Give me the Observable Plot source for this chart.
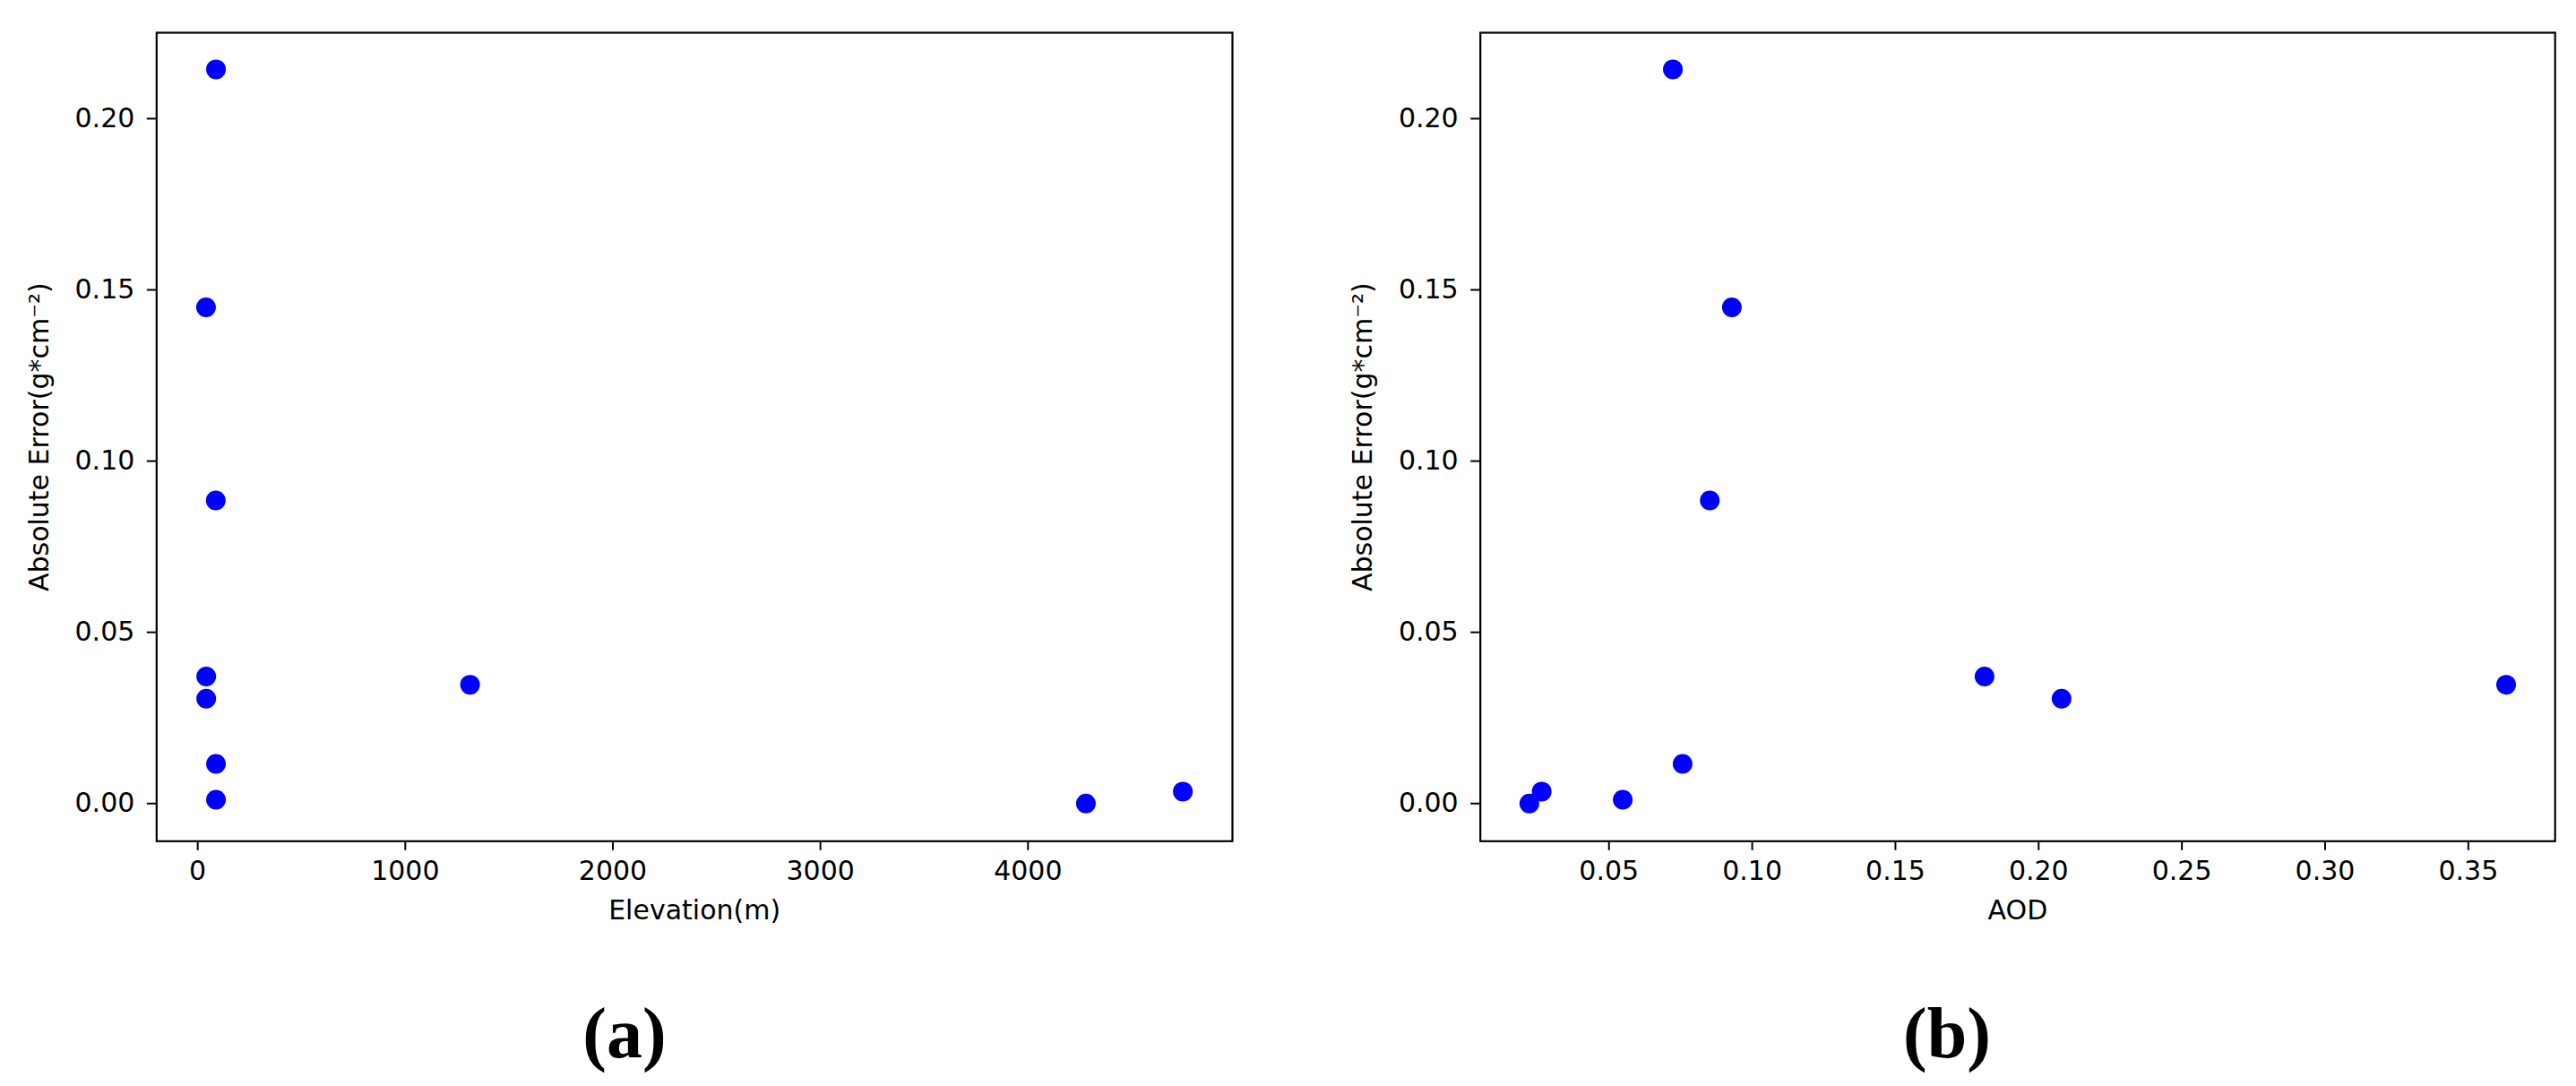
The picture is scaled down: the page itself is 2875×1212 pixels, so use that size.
<!DOCTYPE html>
<html>
<head>
<meta charset="utf-8">
<script src="https://cdn.jsdelivr.net/npm/d3@7"></script>
<script src="https://cdn.jsdelivr.net/npm/@observablehq/plot@0.6"></script>
<style>
  body { margin: 0; background: #fff; }
  #fig { position: relative; width: 2875px; height: 1212px; background: #fff; overflow: hidden; }
  .panel { position: absolute; top: 0; }
  .cap { position: absolute; top: 1113px; width: 300px; text-align: center; color: #000;
         font-family: "Liberation Serif", serif; font-weight: bold; font-size: 80px; line-height: 80px; }
</style>
</head>
<body>
<div id="fig">
  <div id="pa" class="panel" style="left:0px"></div>
  <div id="pb" class="panel" style="left:1437px"></div>
  <div class="cap" style="left:547px">(a)</div>
  <div class="cap" style="left:2023px">(b)</div>
</div>
<script>
// ---- data ----
const absError  = [0.2144, 0.1449, 0.0885, 0.0371, 0.0306, 0.0347, 0.0116, 0.0011, 0.0000, 0.0035];
const elevation = [88, 40, 87, 41, 41, 1312, 88, 88, 4279, 4746];
const aod       = [0.0723, 0.0929, 0.0852, 0.1811, 0.2080, 0.3632, 0.0757, 0.0548, 0.0222, 0.0265];

const errTicks  = [0, 0.05, 0.10, 0.15, 0.20];
const elevTicks = [0, 1000, 2000, 3000, 4000];
const aodTicks  = [0.05, 0.10, 0.15, 0.20, 0.25, 0.30, 0.35];

const yLabel = "Absolute Error(g*cm\u207B\u00B2)";

function panel({xs, xDomain, xTicks, xFormat, xLabel, width, marginLeft, marginRight}) {
  const data = absError.map((e, i) => ({x: xs[i], y: e}));
  return Plot.plot({
    width, height: 1090,
    marginLeft, marginRight, marginTop: 36, marginBottom: 151.7,
    style: {fontFamily: "'DejaVu Sans', sans-serif", fontSize: "30px", color: "#000", background: "#fff", overflow: "visible"},
    x: {domain: xDomain},
    y: {domain: [-0.011, 0.2251]},
    marks: [
      Plot.axisX({ticks: xTicks, tickFormat: xFormat, tickSize: 10.5, tickPadding: 11.6, strokeWidth: 2,
                  label: xLabel, labelAnchor: "center", labelOffset: 87, labelArrow: "none"}),
      Plot.axisY({ticks: errTicks, tickFormat: ".2f", tickSize: 10.5, tickPadding: 14, strokeWidth: 2,
                  label: yLabel, labelAnchor: "center", labelOffset: 142.6, labelArrow: "none"}),
      Plot.dot(data, {x: "x", y: "y", r: 11, fill: "#0000ff", stroke: null}),
      Plot.frame({stroke: "#000", strokeWidth: 2.2})
    ]
  });
}

document.getElementById("pa").append(panel({
  xs: elevation, xDomain: [-198, 4985], xTicks: elevTicks, xFormat: "d", xLabel: "Elevation(m)",
  width: 1437, marginLeft: 174.3, marginRight: 62
}));
document.getElementById("pb").append(panel({
  xs: aod, xDomain: [0.0051, 0.3803], xTicks: aodTicks, xFormat: ".2f", xLabel: "AOD",
  width: 1438, marginLeft: 214.7, marginRight: 23.8
}));
</script>
</body>
</html>
